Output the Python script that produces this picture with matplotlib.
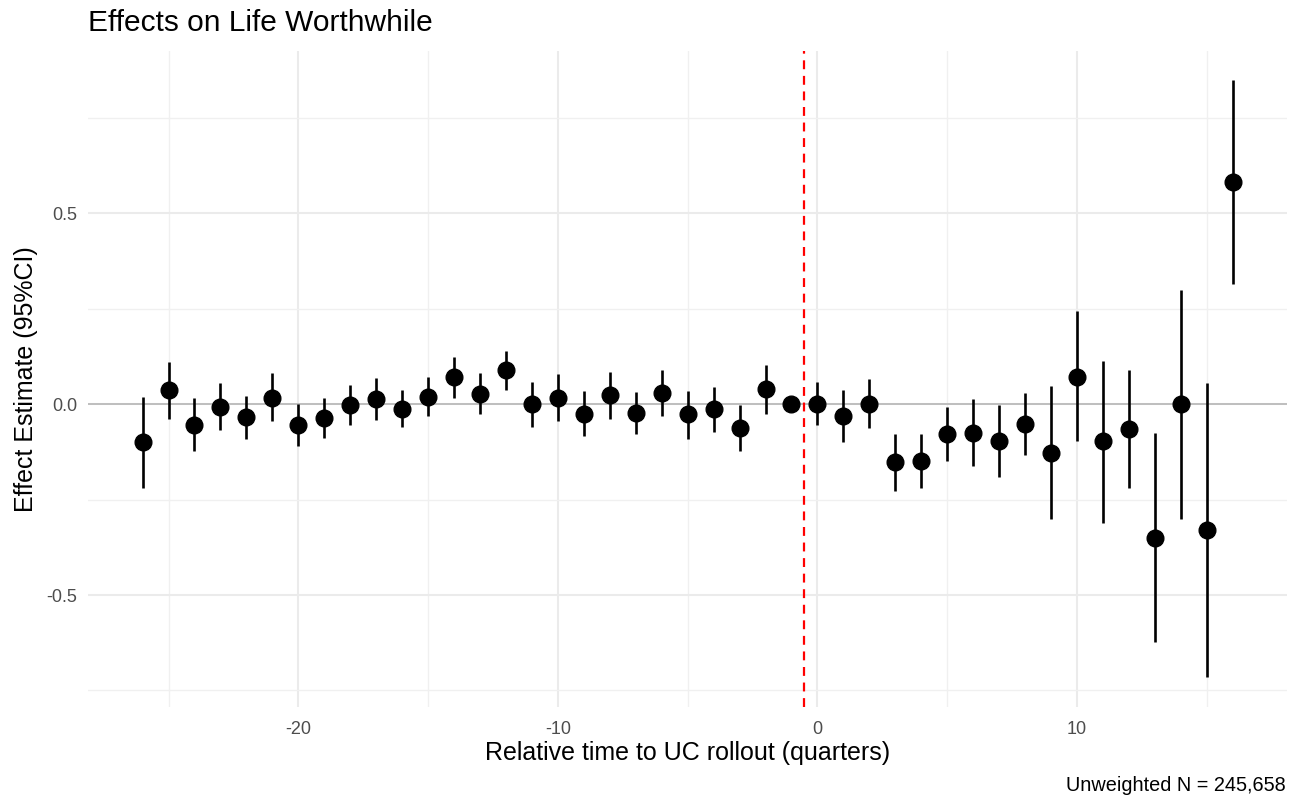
import numpy as np
import matplotlib
matplotlib.use('Agg')
import matplotlib.pyplot as plt
from matplotlib.ticker import MultipleLocator

plt.rcParams['font.family'] = ['Liberation Sans', 'DejaVu Sans']
plt.rcParams['axes.unicode_minus'] = False

# event-study estimates
rel_time = list(range(-26, 17))
estimate = [-0.100, 0.036, -0.055, -0.007, -0.035, 0.017, -0.055, -0.037, -0.003, 0.013,
            -0.012, 0.019, 0.070, 0.027, 0.089, 0.000, 0.017, -0.025, 0.023, -0.024,
            0.030, -0.027, -0.013, -0.062, 0.038, 0.000, 0.000, -0.031, 0.001, -0.152,
            -0.149, -0.079, -0.075, -0.096, -0.052, -0.127, 0.072, -0.098, -0.066, -0.352,
            0.000, -0.330, 0.582]
ci_low = [-0.219, -0.040, -0.124, -0.068, -0.092, -0.044, -0.110, -0.090, -0.056, -0.042,
          -0.059, -0.031, 0.017, -0.027, 0.037, -0.059, -0.044, -0.084, -0.039, -0.079,
          -0.031, -0.091, -0.072, -0.124, -0.026, 0.000, -0.056, -0.099, -0.064, -0.227,
          -0.221, -0.150, -0.162, -0.190, -0.134, -0.302, -0.098, -0.312, -0.219, -0.624,
          -0.302, -0.715, 0.315]
ci_high = [0.019, 0.111, 0.017, 0.056, 0.022, 0.080, 0.000, 0.017, 0.051, 0.067,
           0.037, 0.072, 0.122, 0.080, 0.140, 0.058, 0.078, 0.034, 0.085, 0.031,
           0.089, 0.034, 0.045, -0.003, 0.102, 0.000, 0.057, 0.037, 0.065, -0.079,
           -0.079, -0.008, 0.012, -0.003, 0.030, 0.047, 0.243, 0.113, 0.088, -0.077,
           0.299, 0.056, 0.847]

title = 'Effects on Life Worthwhile'
x_label = 'Relative time to UC rollout (quarters)'
y_label = 'Effect Estimate (95%CI)'
caption = 'Unweighted N = 245,658'

x = np.array(rel_time)
y = np.array(estimate)
lo = np.array(ci_low)
hi = np.array(ci_high)

fig = plt.figure(figsize=(12.95, 8.01), dpi=100)
ax = fig.add_axes([0.068, 0.1174, 0.926, 0.8194])

# ggplot-ish minimal theme
for s in ax.spines.values():
  s.set_visible(False)
ax.xaxis.set_major_locator(MultipleLocator(10))
ax.xaxis.set_minor_locator(MultipleLocator(5))
ax.yaxis.set_major_locator(MultipleLocator(0.5))
ax.yaxis.set_minor_locator(MultipleLocator(0.25))
ax.grid(which='major', color='#EBEBEB', linewidth=1.5, zorder=0)
ax.grid(which='minor', color='#F0F0F0', linewidth=1.0, zorder=0)
ax.tick_params(which='both', length=0, labelsize=13, labelcolor='#4D4D4D')
ax.tick_params(axis='x', pad=10)
ax.tick_params(axis='y', pad=8)
ax.set_axisbelow(True)

ax.axhline(0, color='#BEBEBE', linewidth=1.4, zorder=1)
ax.axvline(-0.5, color='red', linestyle=(0, (4, 3)), linewidth=1.6, zorder=2)

ax.vlines(x, lo, hi, color='black', linewidth=1.9, zorder=3)
ax.plot(x, y, 'o', color='black', markersize=12, zorder=4)

# 5% expansion like ggplot
xr = x.max() - x.min()
ax.set_xlim(x.min() - 0.05 * xr, x.max() + 0.05 * xr)
yr = hi.max() - lo.min()
ax.set_ylim(lo.min() - 0.05 * yr, hi.max() + 0.05 * yr)

ax.set_xlabel(x_label, fontsize=18, labelpad=2)
ax.set_ylabel(y_label, fontsize=18, labelpad=6)
fig.text(0.068, 1 - 31 / 801, title, fontsize=21.5, ha='left', va='baseline')
fig.text(0.993, 0.008, caption, fontsize=14.3, ha='right', va='bottom')

fig.savefig('out.png', dpi=100, facecolor='white')
